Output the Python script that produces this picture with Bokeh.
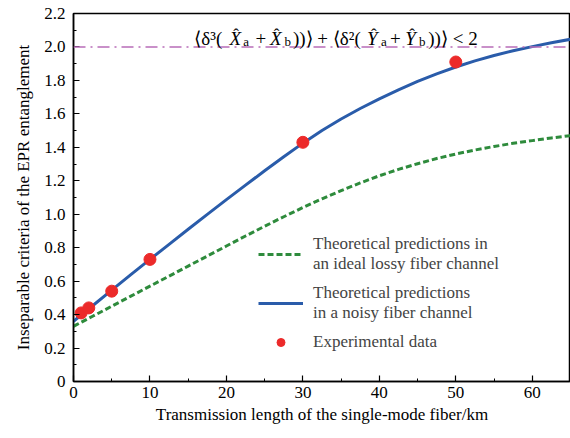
from bokeh.plotting import figure
from bokeh.models import (Legend, LegendItem, Span, FixedTicker, NumeralTickFormatter,
                          Range1d, Label)
from bokeh.embed import file_html
from bokeh.resources import INLINE

# ---- data ----
dist = [0, 2.5, 5, 7.5, 10, 12.5, 15, 17.5, 20, 22.5, 25, 27.5, 30, 32.5, 35, 37.5,
        40, 42.5, 45, 47.5, 50, 52.5, 55, 57.5, 60, 62.5, 65]
ideal = [0.33, 0.39, 0.45, 0.51, 0.57, 0.63, 0.69, 0.75, 0.81, 0.87, 0.928, 0.985, 1.04,
         1.092, 1.141, 1.187, 1.23, 1.268, 1.302, 1.333, 1.36, 1.384, 1.405, 1.424, 1.44,
         1.456, 1.47]
noisy = [0.36, 0.453, 0.546, 0.639, 0.73, 0.82, 0.91, 0.999, 1.087, 1.174, 1.26, 1.344,
         1.425, 1.501, 1.569, 1.632, 1.69, 1.744, 1.794, 1.839, 1.88, 1.917, 1.949, 1.977,
         2.002, 2.025, 2.046]
exp_x = [1, 2, 5, 10, 30, 50]
exp_y = [0.41, 0.44, 0.54, 0.73, 1.43, 1.91]
threshold = 2.0
x_ticks = [0, 10, 20, 30, 40, 50, 60]
y_ticks = [0, 0.2, 0.4, 0.6, 0.8, 1.0, 1.2, 1.4, 1.6, 1.8, 2.0, 2.2]

FONT = "Liberation Serif"

p = figure(width=570, height=438, output_backend="svg", toolbar_location=None,
           x_range=Range1d(0, 65), y_range=Range1d(0, 2.2),
           min_border_left=73, min_border_right=0, min_border_top=13, min_border_bottom=57)
p.background_fill_color = "white"
p.border_fill_color = "white"
p.grid.visible = False
p.outline_line_color = "black"
p.outline_line_width = 1.5

for ax in (p.xaxis[0], p.yaxis[0]):
    ax.axis_line_width = 1.5
    ax.major_tick_in = 6
    ax.major_tick_out = 0
    ax.minor_tick_in = 3
    ax.minor_tick_out = 0
    ax.major_tick_line_width = 1.2
    ax.minor_tick_line_width = 1
    ax.major_label_text_font = FONT
    ax.major_label_text_font_size = "17px"
    ax.major_label_text_color = "black"
    ax.axis_label_text_font = FONT
    ax.axis_label_text_font_size = "17px"
    ax.axis_label_text_font_style = "normal"
    ax.axis_label_text_color = "black"

p.xaxis.ticker = FixedTicker(ticks=x_ticks, minor_ticks=[v + 5 for v in x_ticks])
p.yaxis.ticker = FixedTicker(ticks=y_ticks, minor_ticks=[round(v + 0.1, 2) for v in y_ticks])
p.yaxis.formatter = NumeralTickFormatter(format="0.0")
p.yaxis.major_label_overrides = {0: "0"}
p.xaxis.axis_label = "Transmission length of the single-mode fiber/km"
p.yaxis.axis_label = "Inseparable criteria of the EPR entanglement"
p.xaxis.major_label_standoff = 5
p.yaxis.major_label_standoff = 8
p.xaxis.axis_label_standoff = 4
p.yaxis.axis_label_standoff = 8

thr = Span(location=threshold, dimension="width", line_color="#b86cb8",
           line_width=1.6, line_dash="12 5 2 5")
p.add_layout(thr)

g = p.line(dist, ideal, line_color="#2e8b3c", line_width=3, line_dash="6 3")
b = p.line(dist, noisy, line_color="#2a5caa", line_width=3)
r = p.scatter(exp_x, exp_y, size=12, fill_color="#ec2a2a", line_color="#ec2a2a")

legend = Legend(items=[
    LegendItem(label="Theoretical predictions in\nan ideal lossy fiber channel", renderers=[g]),
    LegendItem(label="Theoretical predictions\nin a noisy fiber channel", renderers=[b]),
    LegendItem(label="Experimental data", renderers=[r]),
], location=(185, 29))
legend.label_text_font = FONT
legend.label_text_font_size = "17px"
legend.label_text_line_height = 1.3
legend.glyph_width = 45
legend.label_standoff = 10
legend.spacing = 9
legend.padding = 0
legend.margin = 0
legend.border_line_alpha = 0
legend.background_fill_alpha = 0
p.add_layout(legend)

# formula annotation, pieced together (text, x, y, size, style)
formula = [
    ("\u27e8\u03b4\u00b3(", 15.8, 2.05, "19px", "normal"),
    ("X", 20.4, 2.05, "19px", "italic"),
    ("\u02c6", 20.9, 2.075, "17px", "normal"),
    ("a", 22.2, 2.03, "13px", "normal"),
    ("+", 23.8, 2.05, "19px", "normal"),
    ("X", 25.7, 2.05, "19px", "italic"),
    ("\u02c6", 26.2, 2.075, "17px", "normal"),
    ("b", 27.6, 2.03, "13px", "normal"),
    ("))\u27e9 + \u27e8\u03b4\u00b2(", 28.7, 2.05, "19px", "normal"),
    ("Y", 38.4, 2.05, "19px", "italic"),
    ("\u02c6", 38.9, 2.075, "17px", "normal"),
    ("a", 40.2, 2.03, "13px", "normal"),
    ("+", 41.4, 2.05, "19px", "normal"),
    ("Y", 43.4, 2.05, "19px", "italic"),
    ("\u02c6", 43.9, 2.075, "17px", "normal"),
    ("b", 45.2, 2.03, "13px", "normal"),
    ("))\u27e9 < 2", 46.4, 2.05, "19px", "normal"),
]
for t, x, y, s, st in formula:
    p.add_layout(Label(x=x, y=y, text=t, text_font=FONT, text_font_size=s,
                       text_font_style=st, text_baseline="alphabetic",
                       text_align="left", text_color="black"))

open("out.html", "w").write(file_html(p, INLINE))
